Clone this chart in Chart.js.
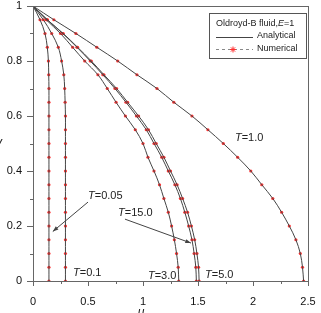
<!DOCTYPE html>
<html>
<head>
<meta charset="utf-8">
<script src="https://cdn.jsdelivr.net/npm/chart.js@4"></script>
<style>
  body { margin: 0; background: #fff; }
  canvas { display: block; }
</style>
</head>
<body>
<canvas id="velChart" width="321" height="313"></canvas>
<script>
// y positions of the sampled points (top wall to centre line)
const yVals = [1, 0.95, 0.9, 0.85, 0.8, 0.75, 0.7, 0.65, 0.6, 0.55, 0.5, 0.45, 0.4, 0.35, 0.3, 0.25, 0.2, 0.15, 0.1, 0.05, 0];

// velocity u
const uT005 = [0, 0.064, 0.109, 0.13, 0.14, 0.143, 0.145, 0.145, 0.145, 0.145, 0.145, 0.145, 0.145, 0.145, 0.145, 0.145, 0.145, 0.145, 0.145, 0.145, 0.145];
const uT01  = [0, 0.094, 0.17, 0.23, 0.26, 0.28, 0.288, 0.292, 0.295, 0.295, 0.295, 0.295, 0.295, 0.295, 0.295, 0.295, 0.295, 0.295, 0.295, 0.295, 0.295];
const uT1   = [0, 0.19, 0.39, 0.58, 0.77, 0.945, 1.127, 1.28, 1.445, 1.59, 1.73, 1.86, 1.98, 2.08, 2.18, 2.26, 2.33, 2.39, 2.43, 2.45, 2.46];
const uT3   = [0, 0.12, 0.25, 0.36, 0.47, 0.59, 0.675, 0.755, 0.84, 0.93, 1.0, 1.045, 1.10, 1.15, 1.19, 1.23, 1.26, 1.285, 1.305, 1.32, 1.325];
const uT5   = [0, 0.13, 0.275, 0.405, 0.53, 0.645, 0.76, 0.86, 0.96, 1.05, 1.12, 1.19, 1.25, 1.31, 1.36, 1.405, 1.44, 1.47, 1.49, 1.505, 1.51];
const uT15  = [0, 0.13, 0.27, 0.4, 0.52, 0.635, 0.745, 0.845, 0.94, 1.03, 1.1, 1.17, 1.23, 1.29, 1.34, 1.38, 1.415, 1.445, 1.465, 1.48, 1.485];

const xTickValues = [0, 0.5, 1, 1.5, 2, 2.5];
const xMinorTicks = [0.25, 0.75, 1.25, 1.75, 2.25];
const yTickValues = [0, 0.2, 0.4, 0.6, 0.8, 1];
const yMinorTicks = [0.1, 0.3, 0.5, 0.7, 0.9];

const lineColor = '#444';
const markColor = '#ff3030';
const frameColor = '#666';

function pts(u) { return u.map((v, i) => ({ x: v, y: yVals[i] })); }

const profiles = [uT005, uT01, uT1, uT3, uT5, uT15];
const datasets = [];
profiles.forEach(u => {
    datasets.push({ data: pts(u), showLine: true, borderColor: lineColor, borderWidth: 1, pointRadius: 0, tension: 0.35, fill: false });
});
profiles.forEach(u => {
    datasets.push({ data: pts(u), showLine: false, pointRadius: 1.6, pointBackgroundColor: markColor, pointBorderWidth: 0 });
});

// labels drawn on the plot (position in data units)
const notes = [
    { text: '1.0', u: 1.836, y: 0.52 },
    { text: '0.05', u: 0.5, y: 0.309 },
    { text: '15.0', u: 0.773, y: 0.247 },
    { text: '0.1', u: 0.364, y: 0.029 },
    { text: '3.0', u: 1.045, y: 0.02 },
    { text: '5.0', u: 1.564, y: 0.022 }
];
const arrows = [
    { from: [0.5, 0.287], to: [0.18, 0.18] },
    { from: [0.836, 0.225], to: [1.436, 0.138] }
];

function tText(ctx, x, y, rest, size) {
    ctx.font = 'italic ' + size + 'px "Liberation Sans", Arial, sans-serif';
    ctx.fillText('T', x, y);
    const w = ctx.measureText('T').width;
    ctx.font = size + 'px "Liberation Sans", Arial, sans-serif';
    ctx.fillText('=' + rest, x + w, y);
}

const decor = {
    id: 'decor',
    afterDraw(chart) {
        const { ctx, chartArea: a, scales: { x, y } } = chart;
        ctx.save();
        // frame
        ctx.strokeStyle = frameColor;
        ctx.lineWidth = 1;
        ctx.strokeRect(a.left + 0.5, a.top + 0.5, a.right - a.left, a.bottom - a.top);
        // ticks
        ctx.beginPath();
        xTickValues.forEach(v => { const p = Math.round(x.getPixelForValue(v)) + 0.5; ctx.moveTo(p, a.bottom); ctx.lineTo(p, a.bottom + 5); });
        xMinorTicks.forEach(v => { const p = Math.round(x.getPixelForValue(v)) + 0.5; ctx.moveTo(p, a.bottom); ctx.lineTo(p, a.bottom + 3); });
        yTickValues.forEach(v => { const p = Math.round(y.getPixelForValue(v)) + 0.5; ctx.moveTo(a.left, p); ctx.lineTo(a.left - 6, p); });
        yMinorTicks.forEach(v => { const p = Math.round(y.getPixelForValue(v)) + 0.5; ctx.moveTo(a.left, p); ctx.lineTo(a.left - 3, p); });
        ctx.stroke();

        // annotations
        ctx.fillStyle = '#222';
        ctx.textBaseline = 'middle';
        ctx.textAlign = 'left';
        notes.forEach(n => tText(ctx, x.getPixelForValue(n.u), y.getPixelForValue(n.y), n.text, 11));

        ctx.strokeStyle = '#444';
        ctx.fillStyle = '#444';
        arrows.forEach(ar => {
            const x1 = x.getPixelForValue(ar.from[0]), y1 = y.getPixelForValue(ar.from[1]);
            const x2 = x.getPixelForValue(ar.to[0]), y2 = y.getPixelForValue(ar.to[1]);
            ctx.beginPath(); ctx.moveTo(x1, y1); ctx.lineTo(x2, y2); ctx.stroke();
            const ang = Math.atan2(y2 - y1, x2 - x1);
            ctx.beginPath();
            ctx.moveTo(x2, y2);
            ctx.lineTo(x2 - 6 * Math.cos(ang - 0.35), y2 - 6 * Math.sin(ang - 0.35));
            ctx.lineTo(x2 - 6 * Math.cos(ang + 0.35), y2 - 6 * Math.sin(ang + 0.35));
            ctx.closePath(); ctx.fill();
        });

        // legend box
        const lx = 209.5, ly = 13.5, lw = 97, lh = 45;
        ctx.fillStyle = '#fff';
        ctx.fillRect(lx, ly, lw, lh);
        ctx.strokeStyle = '#555';
        ctx.strokeRect(lx, ly, lw, lh);
        ctx.fillStyle = '#222';
        ctx.textBaseline = 'alphabetic';
        ctx.font = '9px "Liberation Sans", Arial, sans-serif';
        let tx = 216;
        ctx.fillText('Oldroyd-B fluid,', tx, 26);
        tx += ctx.measureText('Oldroyd-B fluid,').width;
        ctx.font = 'italic 9px "Liberation Sans", Arial, sans-serif';
        ctx.fillText('E', tx, 26);
        tx += ctx.measureText('E').width;
        ctx.font = '9px "Liberation Sans", Arial, sans-serif';
        ctx.fillText('=1', tx, 26);
        ctx.strokeStyle = lineColor;
        ctx.beginPath(); ctx.moveTo(216, 37.5); ctx.lineTo(253, 37.5); ctx.stroke();
        ctx.fillText('Analytical', 257, 38);
        ctx.strokeStyle = '#888';
        ctx.setLineDash([3, 3]);
        ctx.beginPath(); ctx.moveTo(216, 49.5); ctx.lineTo(253, 49.5); ctx.stroke();
        ctx.setLineDash([]);
        ctx.strokeStyle = markColor;
        ctx.beginPath();
        for (let k = 0; k < 4; k++) {
            const ang = k * Math.PI / 4;
            ctx.moveTo(233 - 3 * Math.cos(ang), 49.5 - 3 * Math.sin(ang));
            ctx.lineTo(233 + 3 * Math.cos(ang), 49.5 + 3 * Math.sin(ang));
        }
        ctx.stroke();
        ctx.fillText('Numerical', 257, 51);

        // axis titles (partly outside the window, as in the source)
        ctx.textBaseline = 'middle';
        ctx.font = 'italic 12px "Liberation Sans", Arial, sans-serif';
        ctx.textAlign = 'center';
        ctx.fillText('y', -1, 143);
        ctx.fillText('u', 141, 313);
        ctx.restore();
    }
};

new Chart(document.getElementById('velChart'), {
    type: 'scatter',
    data: { datasets: datasets },
    options: {
        responsive: false,
        animation: false,
        layout: { padding: { top: 6, right: 13, left: 0, bottom: 0 } },
        plugins: { legend: { display: false }, tooltip: { enabled: false } },
        scales: {
            x: {
                type: 'linear', min: 0, max: 2.5,
                afterBuildTicks: s => { s.ticks = xTickValues.map(v => ({ value: v })); },
                afterFit: s => { s.height = 32; s.paddingLeft = 0; s.paddingRight = 0; },
                grid: { display: false, drawTicks: false },
                border: { display: false },
                ticks: { color: '#111', padding: 14, maxRotation: 0, callback: v => String(v), font: { size: 11, family: '"Liberation Sans", Arial, sans-serif' } }
            },
            y: {
                type: 'linear', min: 0, max: 1,
                afterBuildTicks: s => { s.ticks = yTickValues.map(v => ({ value: v })); },
                afterFit: s => { s.width = 33; s.paddingTop = 0; s.paddingBottom = 0; },
                grid: { display: false, drawTicks: false },
                border: { display: false },
                ticks: { color: '#111', padding: 11, callback: v => String(v), font: { size: 11, family: '"Liberation Sans", Arial, sans-serif' } }
            }
        }
    },
    plugins: [decor]
});
</script>
</body>
</html>
